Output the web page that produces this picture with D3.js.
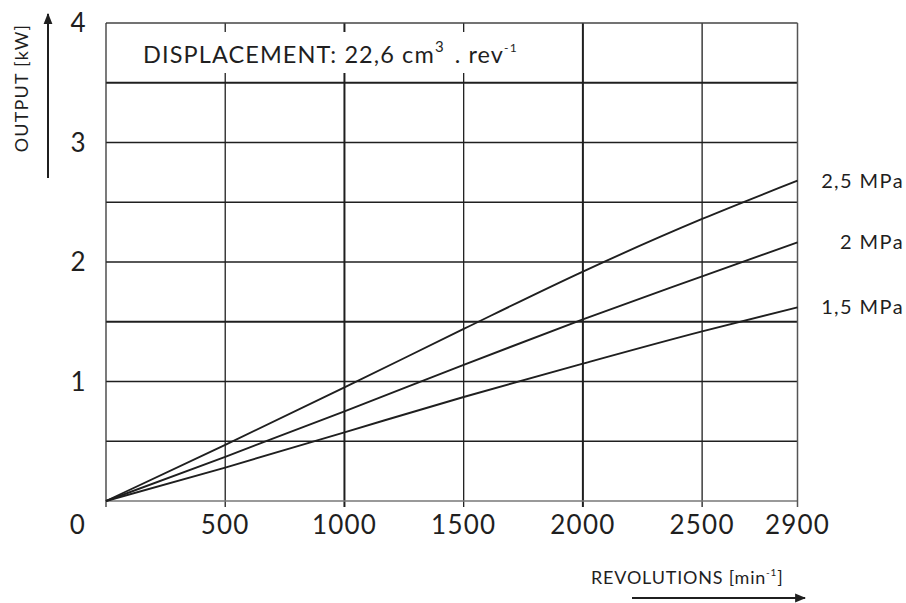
<!DOCTYPE html>
<html>
<head>
<meta charset="utf-8">
<script src="https://cdn.jsdelivr.net/npm/d3@7"></script>
<style>
  body { margin: 0; background: #fff; }
  svg { font-family: Lato, "Noto Sans", sans-serif; }
</style>
</head>
<body>
<svg id="chart" width="906" height="603"></svg>
<script>
// data
const rpm = [0, 500, 1000, 1500, 2000, 2500, 2900];
const out25 = [0, 0.47, 0.95, 1.44, 1.92, 2.36, 2.68];
const out20 = [0, 0.37, 0.75, 1.14, 1.52, 1.88, 2.165];
const out15 = [0, 0.28, 0.575, 0.87, 1.15, 1.42, 1.62];
const seriesNames = ["2,5 MPa", "2 MPa", "1,5 MPa"];
const xTicks = [0, 500, 1000, 1500, 2000, 2500, 2900];
const yTicks = [0, 1, 2, 3, 4];
const yGrid = [0.5, 1, 1.5, 2, 2.5, 3, 3.5];
const thickX = [1000, 2000];
const thickY = [1.5, 3.5];

const svg = d3.select("#chart");
const x = d3.scaleLinear().domain([0, 2900]).range([106, 797.5]);
const y = d3.scaleLinear().domain([0, 4]).range([501, 23]);
const ink = "#1f1f1f";

const g = svg.append("g");

// horizontal grid
g.selectAll("line.hgrid")
  .data(yGrid)
  .enter()
  .append("line")
  .attr("x1", x(0)).attr("x2", x(2900))
  .attr("y1", d => y(d)).attr("y2", d => y(d))
  .attr("stroke", ink)
  .attr("stroke-width", d => thickY.includes(d) ? 2 : 1.3);

// vertical grid (with small ticks below the axis)
g.selectAll("line.vgrid")
  .data(xTicks.slice(1, -1))
  .enter()
  .append("line")
  .attr("x1", d => x(d)).attr("x2", d => x(d))
  .attr("y1", y(4)).attr("y2", y(0) + 6)
  .attr("stroke", ink)
  .attr("stroke-width", d => thickX.includes(d) ? 2 : 1.3);

// frame
g.append("line").attr("x1", x(0)).attr("x2", x(2900)).attr("y1", y(4)).attr("y2", y(4))
  .attr("stroke", "#444").attr("stroke-width", 1.3);
g.append("line").attr("x1", x(0)).attr("x2", x(2900)).attr("y1", y(0)).attr("y2", y(0))
  .attr("stroke", "#777").attr("stroke-width", 1.6);
g.append("line").attr("x1", x(0)).attr("x2", x(0)).attr("y1", y(4)).attr("y2", y(0) + 6)
  .attr("stroke", "#333").attr("stroke-width", 1.3);
g.append("line").attr("x1", x(2900)).attr("x2", x(2900)).attr("y1", y(4)).attr("y2", y(0) + 6)
  .attr("stroke", "#555").attr("stroke-width", 1.5);

// displacement label box
g.append("rect")
  .attr("x", 134).attr("y", 32).attr("width", 400).attr("height", 41)
  .attr("fill", "#fff");
const disp = g.append("text")
  .attr("x", 143).attr("y", 63)
  .attr("font-size", 23.5)
  .attr("letter-spacing", 1.1)
  .attr("fill", ink);
disp.append("tspan").text("DISPLACEMENT: 22,6 cm");
disp.append("tspan").attr("dy", -11).attr("font-size", 15).text("3");
disp.append("tspan").attr("dy", 11).attr("dx", 10).text(". rev");
disp.append("tspan").attr("dy", -11).attr("font-size", 12).text("-1");

// curves
const line = d3.line().x((d, i) => x(rpm[i])).y(d => y(d)).curve(d3.curveMonotoneX);
const series = [out25, out20, out15];
g.selectAll("path.curve")
  .data(series)
  .enter()
  .append("path")
  .attr("d", line)
  .attr("fill", "none")
  .attr("stroke", ink)
  .attr("stroke-width", 1.9);

// series labels
g.selectAll("text.series")
  .data(series)
  .enter()
  .append("text")
  .attr("x", 904)
  .attr("y", d => y(d[d.length - 1]))
  .attr("dy", "0.35em")
  .attr("text-anchor", "end")
  .attr("font-size", 20)
  .attr("letter-spacing", 1.4)
  .attr("fill", ink)
  .text((d, i) => seriesNames[i]);

// x tick labels
g.selectAll("text.xt")
  .data(xTicks)
  .enter()
  .append("text")
  .attr("x", d => d === 0 ? 78 : x(d))
  .attr("y", 525)
  .attr("dy", "0.35em")
  .attr("text-anchor", "middle")
  .attr("font-size", 26)
  .attr("letter-spacing", 1.2)
  .attr("fill", ink)
  .text(d => d);

// y tick labels
g.selectAll("text.yt")
  .data(yTicks.slice(1))
  .enter()
  .append("text")
  .attr("x", 78)
  .attr("y", d => y(d))
  .attr("dy", "0.35em")
  .attr("text-anchor", "middle")
  .attr("font-size", 26)
  .attr("fill", ink)
  .text(d => d);

// axis titles with arrows
svg.append("defs").append("marker")
  .attr("id", "arrow")
  .attr("viewBox", "0 0 10 10")
  .attr("refX", 9).attr("refY", 5)
  .attr("markerWidth", 5.5).attr("markerHeight", 5.5)
  .attr("orient", "auto")
  .append("path").attr("d", "M0,1 L10,5 L0,9 Z").attr("fill", ink);

g.append("text")
  .attr("transform", "translate(28,88) rotate(-90)")
  .attr("text-anchor", "middle")
  .attr("font-size", 18)
  .attr("letter-spacing", 1.2)
  .attr("fill", ink)
  .text("OUTPUT  [kW]");
g.append("line")
  .attr("x1", 48).attr("x2", 48).attr("y1", 178).attr("y2", 14)
  .attr("stroke", ink).attr("stroke-width", 2)
  .attr("marker-end", "url(#arrow)");

const rev = g.append("text")
  .attr("x", 591).attr("y", 584)
  .attr("font-size", 18)
  .attr("letter-spacing", 0.8)
  .attr("fill", ink);
rev.append("tspan").text("REVOLUTIONS  [min");
rev.append("tspan").attr("dy", -8).attr("font-size", 10).text("-1");
rev.append("tspan").attr("dy", 8).text("]");
g.append("line")
  .attr("x1", 632).attr("x2", 805).attr("y1", 598).attr("y2", 598)
  .attr("stroke", ink).attr("stroke-width", 2)
  .attr("marker-end", "url(#arrow)");
</script>
</body>
</html>
